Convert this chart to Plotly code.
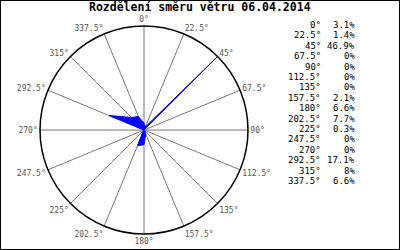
import plotly.graph_objects as go

directions = [0, 22.5, 45, 67.5, 90, 112.5, 135, 157.5, 180, 202.5, 225, 247.5, 270, 292.5, 315, 337.5]
percent = [3.1, 1.4, 46.9, 0, 0, 0, 0, 2.1, 6.6, 7.7, 0.3, 0, 0, 17.1, 8, 6.6]
title_text = "Rozdělení směru větru 06.04.2014"


def fmt_num(v):
    return str(int(v)) if float(v).is_integer() else str(v)


dir_labels = [fmt_num(d) + "°" for d in directions]
pct_labels = [fmt_num(p) + "%" for p in percent]

W, H = 400, 250
mono = "DejaVu Sans Mono"

fig = go.Figure()
fig.add_trace(go.Scatterpolar(
    r=percent + [percent[0]],
    theta=directions + [directions[0]],
    mode="lines",
    fill="toself",
    fillcolor="#0000ff",
    line=dict(color="#0000ff", width=1),
    hoverinfo="skip",
))

annotations = [dict(
    text="<b>" + title_text + "</b>", x=0.5, y=1 - 7 / H, xref="paper", yref="paper",
    xanchor="center", yanchor="middle", showarrow=False,
    font=dict(family=mono, size=11.5, color="#000000"))]

for i, (dl, pl) in enumerate(zip(dir_labels, pct_labels)):
    yy = 1 - (25 + i * 10.4) / H
    annotations.append(dict(text=dl, x=323 / W, y=yy, xref="paper", yref="paper",
                            xanchor="right", yanchor="middle", showarrow=False,
                            font=dict(family=mono, size=9, color="#000000")))
    annotations.append(dict(text=pl, x=357 / W, y=yy, xref="paper", yref="paper",
                            xanchor="right", yanchor="middle", showarrow=False,
                            font=dict(family=mono, size=9, color="#000000")))

fig.update_layout(
    width=W, height=H,
    margin=dict(l=0, r=0, t=0, b=0),
    paper_bgcolor="#ffffff",
    plot_bgcolor="#ffffff",
    showlegend=False,
    annotations=annotations,
    polar=dict(
        domain=dict(x=[40 / W, 248 / W], y=[16 / H, 224 / H]),
        bgcolor="#ffffff",
        radialaxis=dict(visible=False, range=[0, max(percent)], showgrid=False),
        angularaxis=dict(
            rotation=90, direction="clockwise",
            tickmode="array", tickvals=directions, ticktext=dir_labels,
            showline=True, linecolor="#000000", linewidth=1.5,
            showgrid=True, gridcolor="#777777", gridwidth=1,
            ticks="",
            tickfont=dict(family=mono, size=8, color="#555555"),
        ),
    ),
    shapes=[dict(type="rect", xref="paper", yref="paper", x0=0, y0=0, x1=1, y1=1,
                 line=dict(color="#000000", width=2))],
)

fig.write_html("out.html")
